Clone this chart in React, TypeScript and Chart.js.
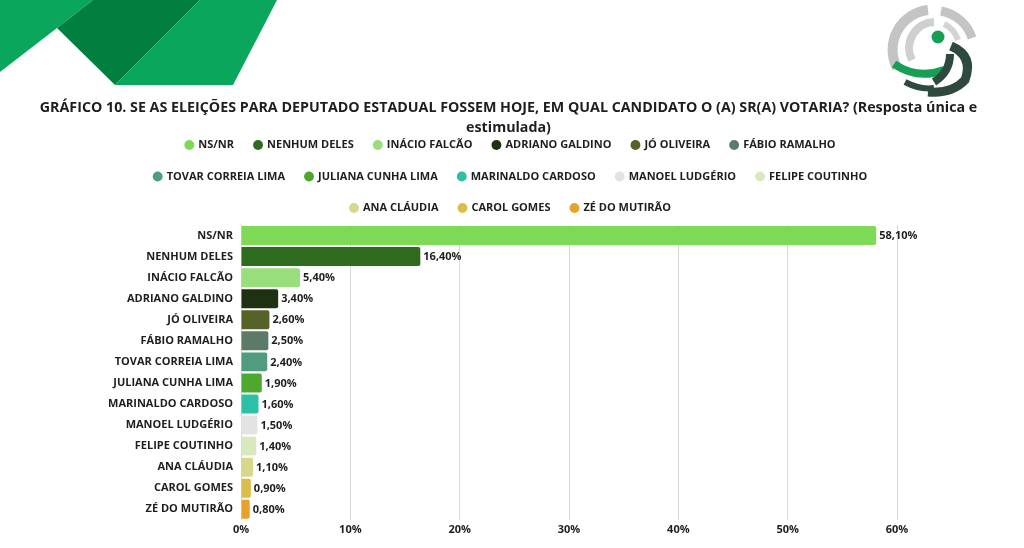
import React, { useEffect, useRef } from "react";
import { Chart, registerables } from "chart.js";

Chart.register(...registerables);

const categories = [
  "NS/NR",
  "NENHUM DELES",
  "INÁCIO FALCÃO",
  "ADRIANO GALDINO",
  "JÓ OLIVEIRA",
  "FÁBIO RAMALHO",
  "TOVAR CORREIA LIMA",
  "JULIANA CUNHA LIMA",
  "MARINALDO CARDOSO",
  "MANOEL LUDGÉRIO",
  "FELIPE COUTINHO",
  "ANA CLÁUDIA",
  "CAROL GOMES",
  "ZÉ DO MUTIRÃO",
];

const values = [58.1, 16.4, 5.4, 3.4, 2.6, 2.5, 2.4, 1.9, 1.6, 1.5, 1.4, 1.1, 0.9, 0.8];

const colors = [
  "#7ed957",
  "#2e6b1f",
  "#98de7c",
  "#1e3212",
  "#566328",
  "#5b7a68",
  "#4f9c7e",
  "#4ea72e",
  "#2dbfa8",
  "#e3e3e3",
  "#d9e9bf",
  "#d6d88c",
  "#dbbd4c",
  "#e7a22c",
];

const xTicks = [0, 10, 20, 30, 40, 50, 60];

const titleLines = [
  "GRÁFICO 10. SE AS ELEIÇÕES PARA DEPUTADO ESTADUAL FOSSEM HOJE, EM QUAL CANDIDATO O (A) SR(A) VOTARIA? (Resposta única e",
  "estimulada)",
];

const FONT = "'Open Sans', 'Noto Sans', sans-serif";
const TEXT = "#1e1e1e";

const fmt = (v: number) => v.toFixed(2).replace(".", ",") + "%";

const valueLabels = {
  id: "valueLabels",
  afterDatasetsDraw(chart: any) {
    const ctx = chart.ctx;
    const meta = chart.getDatasetMeta(0);
    ctx.save();
    ctx.font = `bold 11px ${FONT}`;
    ctx.fillStyle = TEXT;
    ctx.textAlign = "left";
    ctx.textBaseline = "middle";
    meta.data.forEach((bar: any, i: number) => {
      ctx.fillText(fmt(values[i]), bar.x + 3, bar.y + 0.5);
    });
    ctx.restore();
  },
};

// let the (long) title use the full page width instead of being squeezed
const wideTitle = {
  id: "wideTitle",
  afterLayout(chart: any) {
    const t = chart.titleBlock;
    if (t) {
      t.left = 8.5;
      t.right = 1008.5;
      t.width = 1000;
    }
  },
};

export default function App() {
  const ref = useRef<HTMLCanvasElement | null>(null);

  useEffect(() => {
    if (!ref.current) return;
    const chart = new Chart(ref.current, {
      type: "bar",
      data: {
        labels: categories,
        datasets: [
          {
            data: values,
            backgroundColor: colors,
            borderWidth: 0,
            borderRadius: 2,
            categoryPercentage: 0.9,
            barPercentage: 1,
          },
        ],
      },
      options: {
        indexAxis: "y",
        animation: false,
        responsive: true,
        maintainAspectRatio: false,
        layout: { padding: { left: 108, right: 110.6, top: 0, bottom: 9 } },
        plugins: {
          tooltip: { enabled: false },
          title: {
            display: true,
            text: titleLines,
            color: TEXT,
            font: { family: FONT, size: 14.25, weight: "bold", lineHeight: 20 / 14.25 },
            padding: { top: 97.5, bottom: -18.5 },
          },
          legend: {
            display: true,
            position: "top",
            onClick: () => {},
            labels: {
              usePointStyle: true,
              pointStyle: "circle",
              boxWidth: 7,
              boxHeight: 7,
              padding: 20.5,
              color: TEXT,
              font: { family: FONT, size: 11, weight: "bold" },
              generateLabels: () =>
                categories.map((c, i) => ({
                  text: c,
                  fillStyle: colors[i],
                  strokeStyle: colors[i],
                  lineWidth: 0,
                  pointStyle: "circle",
                  hidden: false,
                  index: i,
                  fontColor: TEXT,
                })),
            },
          },
        },
        scales: {
          x: {
            type: "linear",
            position: "bottom",
            min: 0,
            max: 61.5,
            afterBuildTicks: (s: any) => {
              s.ticks = xTicks.map((v) => ({ value: v }));
            },
            ticks: {
              callback: (v: any) => v + "%",
              color: TEXT,
              padding: 3,
              font: { family: FONT, size: 11, weight: "bold" },
            },
            grid: { color: "#d9d9d9", lineWidth: 1, drawTicks: false },
            border: { display: false },
          },
          x2: {
            type: "linear",
            position: "top",
            display: true,
            min: 0,
            max: 1,
            ticks: { display: false },
            grid: { display: false, drawTicks: false },
            border: { display: false },
            afterFit: (s: any) => {
              s.height = 1.5;
            },
          },
          y: {
            type: "category",
            ticks: {
              color: TEXT,
              padding: 8,
              font: { family: FONT, size: 11, weight: "bold" },
            },
            grid: { display: false, drawTicks: false },
            border: { display: false },
            afterFit: (s: any) => {
              s.width = 133;
            },
          },
        },
      } as any,
      plugins: [valueLabels, wideTitle],
    });
    return () => chart.destroy();
  }, []);

  return (
    <div style={{ position: "absolute", left: 0, top: 0, width: 1024, height: 548, background: "#fff" }}>
      <svg
        width={1024}
        height={548}
        style={{ position: "absolute", left: 0, top: 0, pointerEvents: "none" }}
      >
        <polygon points="0,0 93,0 57,28 0,72" fill="#0aa65b" />
        <polygon points="93,0 200,0 115,85 57,28" fill="#007f3f" />
        <polygon points="200,0 277,0 233,85 115,85" fill="#0aa65b" />
        <g>
          <path d="M 897 68 A 40 40 0 0 1 928 10" stroke="#c4c4c4" strokeWidth={10} fill="none" />
          <path d="M 912 60 A 26 26 0 0 1 934 22" stroke="#cfcfcf" strokeWidth={8} fill="none" />
          <path d="M 941 11 A 40 40 0 0 1 972 38" stroke="#c4c4c4" strokeWidth={9} fill="none" />
          <path d="M 944 24 A 26 26 0 0 1 958 40" stroke="#d4d4d4" strokeWidth={6} fill="none" />
          <path d="M 894 64 Q 918 80 944 70" stroke="#17a055" strokeWidth={8} fill="none" />
          <circle cx={938} cy={37} r={6.5} fill="#17a055" />
          <path d="M 951 46 Q 974 56 965 80 Q 952 94 928 92" stroke="#2e4a3e" strokeWidth={9} fill="none" />
          <path d="M 934 82 Q 950 72 950 54" stroke="#2e4a3e" strokeWidth={8} fill="none" />
          <path d="M 905 82 Q 920 90 934 88" stroke="#2e4a3e" strokeWidth={6} fill="none" />
        </g>
      </svg>
      <canvas ref={ref} style={{ position: "absolute", left: 0, top: 0, width: 1024, height: 548 }} />
    </div>
  );
}
